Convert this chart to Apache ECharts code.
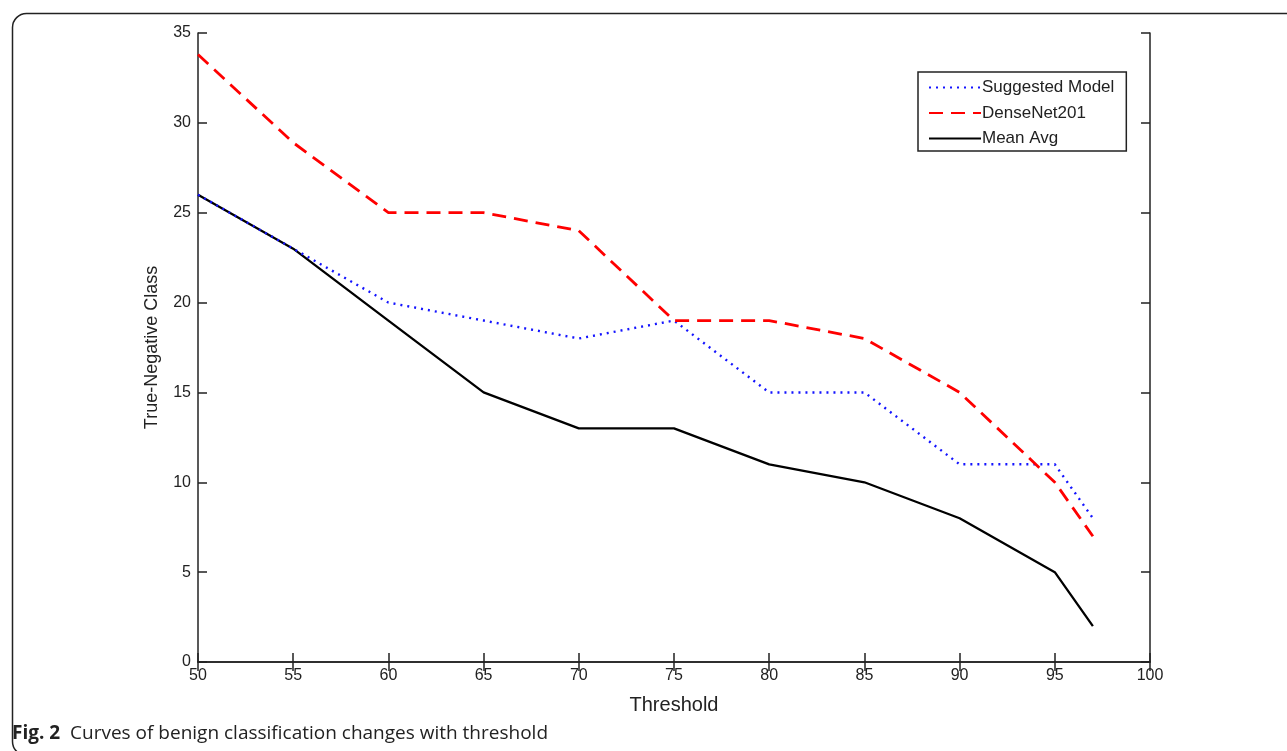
<!DOCTYPE html>
<html>
<head>
<meta charset="utf-8">
<script src="https://cdn.jsdelivr.net/npm/echarts@6/dist/echarts.min.js"></script>
<style>
html,body{margin:0;padding:0;background:#fff;}
#chart{width:1287px;height:751px;}
</style>
</head>
<body>
<div id="chart"></div>
<script>
const thresholds = [50, 55, 60, 65, 70, 75, 80, 85, 90, 95, 97];
const suggestedModel = [26, 23, 20, 19, 18, 19, 15, 15, 11, 11, 8];
const denseNet201 = [33.8, 28.9, 25, 25, 24, 19, 19, 18, 15, 10, 7];
const meanAvg = [26, 23, 19, 15, 13, 13, 11, 10, 8, 5, 2];
const seriesNames = ['Suggested Model', 'DenseNet201', 'Mean Avg'];
const xTitle = 'Threshold';
const yTitle = 'True-Negative Class';
const captionBold = 'Fig. 2';
const captionText = 'Curves of benign classification changes with threshold';

const pairs = arr => thresholds.map((t, i) => [t, arr[i]]);
const tickFont = {fontFamily: 'Liberation Sans, Arial, sans-serif', fontSize: 16, color: '#222'};

const chart = echarts.init(document.getElementById('chart'), null, {renderer: 'canvas'});
const axisLineStyle = {color: '#222', width: 1.5};
chart.setOption({
  animation: false,
  backgroundColor: '#fff',
  grid: {left: 198, right: 137, top: 33, bottom: 89, containLabel: false},
  xAxis: [{
    type: 'value', min: 50, max: 100, interval: 5,
    name: xTitle, nameLocation: 'middle', nameGap: 33,
    nameTextStyle: {fontFamily: 'Liberation Sans, Arial, sans-serif', fontSize: 20, color: '#222'},
    axisLine: {show: true, lineStyle: axisLineStyle},
    axisTick: {show: true, inside: true, length: 9, lineStyle: axisLineStyle},
    axisLabel: Object.assign({margin: 6}, tickFont),
    splitLine: {show: false}
  }, {
    type: 'value', min: 50, max: 100, interval: 5, position: 'top',
    axisLine: {show: true, lineStyle: axisLineStyle},
    axisTick: {show: true, inside: true, length: 9, lineStyle: axisLineStyle},
    axisLabel: {show: false}, splitLine: {show: false}
  }],
  yAxis: [{
    type: 'value', min: 0, max: 35, interval: 5,
    name: yTitle, nameLocation: 'middle', nameGap: 37, nameRotate: 90,
    nameTextStyle: {fontFamily: 'Liberation Sans, Arial, sans-serif', fontSize: 18, color: '#222'},
    axisLine: {show: true, lineStyle: axisLineStyle},
    axisTick: {show: true, inside: true, length: 9, lineStyle: axisLineStyle},
    axisLabel: Object.assign({margin: 7}, tickFont),
    splitLine: {show: false}
  }, {
    type: 'value', min: 0, max: 35, interval: 5, position: 'right',
    axisLine: {show: true, lineStyle: axisLineStyle},
    axisTick: {show: true, inside: true, length: 9, lineStyle: axisLineStyle},
    axisLabel: {show: false}, splitLine: {show: false}
  }],
  legend: {
    orient: 'vertical', left: 918, top: 72,
    padding: [7, 12, 4, 10],
    itemWidth: 52, itemHeight: 10, itemGap: 8.5,
    itemStyle: {opacity: 0},
    borderColor: '#222', borderWidth: 1.5, backgroundColor: '#fff',
    textStyle: {fontFamily: 'Liberation Sans, Arial, sans-serif', fontSize: 17, color: '#222', padding: [0, 0, 0, -4]},
    data: seriesNames
  },
  series: [{
    name: seriesNames[2], type: 'line', data: pairs(meanAvg), symbol: 'none',
    lineStyle: {color: '#000', width: 2.3, type: 'solid'}, itemStyle: {color: '#000'}
  }, {
    name: seriesNames[0], type: 'line', data: pairs(suggestedModel), symbol: 'none',
    lineStyle: {color: '#1414ff', width: 2.4, type: [2, 5]}, itemStyle: {color: '#1414ff'}
  }, {
    name: seriesNames[1], type: 'line', data: pairs(denseNet201), symbol: 'none',
    lineStyle: {color: '#ff0000', width: 2.8, type: [14, 8]}, itemStyle: {color: '#ff0000'}
  }],
  graphic: [{
    type: 'rect', left: 10, top: 11, silent: true,
    shape: {x: 0, y: 0, width: 1320, height: 742, r: 14},
    style: {fill: 'none', stroke: '#222', lineWidth: 1.5}
  }, {
    type: 'text', left: 12, top: 724,
    style: {
      text: '{b|' + captionBold + '}  ' + captionText,
      font: '19px "Open Sans", "Noto Sans", sans-serif', fill: '#222',
      rich: {b: {fontFamily: '"Open Sans", "Noto Sans", sans-serif', fontWeight: 'bold', fontSize: 19, fill: '#222'}}
    }
  }]
});
</script>
</body>
</html>
